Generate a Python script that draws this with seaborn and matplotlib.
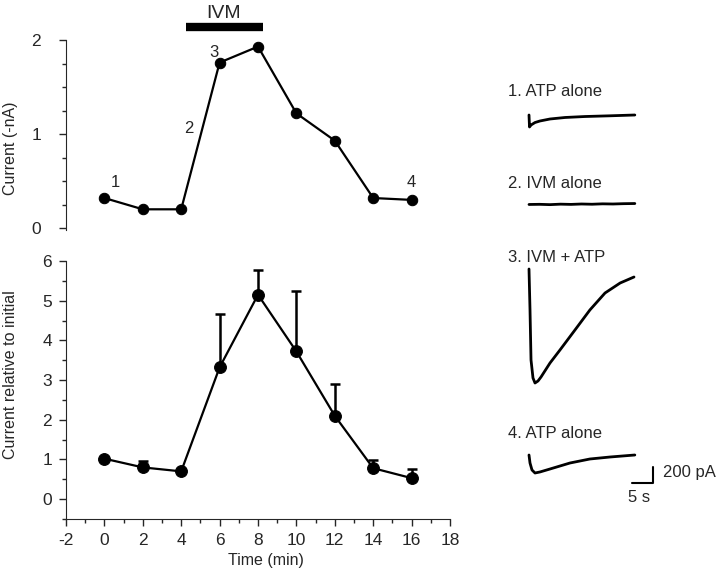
import pandas as pd
import matplotlib
matplotlib.use("Agg")
import matplotlib.pyplot as plt
from matplotlib.ticker import MultipleLocator
import seaborn as sns

sns.set_style("ticks")
plt.rcParams['font.family'] = ['Liberation Sans', 'DejaVu Sans']
plt.rcParams['axes.unicode_minus'] = False

# time points (min)
time_min = [0, 2, 4, 6, 8, 10, 12, 14, 16]
# top panel: example cell current (-nA)
current_na = [0.32, 0.20, 0.20, 1.76, 1.93, 1.22, 0.93, 0.32, 0.30]
# bottom panel: mean current relative to initial, upper SEM
rel_mean = [1.02, 0.80, 0.70, 3.32, 5.15, 3.72, 2.10, 0.78, 0.53]
rel_err = [0.0, 0.17, 0.0, 1.35, 0.63, 1.53, 0.80, 0.20, 0.22]

point_labels = ['1', '2', '3', '4']
point_label_x = [0.55, 4.4, 5.7, 16.0]
point_label_y = [0.48, 1.06, 1.87, 0.48]

# example traces (time in s, current in pA relative to baseline)
tr1_t = [0, 0.12, 0.48, 1.43, 2.6, 5.0, 8.6, 13.3, 19.3, 25.2]
tr1_i = [0, -150, -125, -94, -75, -50, -31, -19, -10, 0]
tr2_t = [0, 2.5, 5.0, 7.5, 10, 12.5, 15, 17.5, 20, 22.5, 25.2]
tr2_i = [-6, -4, -8, -2, -5, 0, -3, 2, 0, 4, 6]
tr3_t = [0, 0.24, 0.48, 0.95, 1.43, 2.14, 2.86, 5.0, 7.38, 10.95, 14.5, 18.1, 21.7, 25.0]
tr3_i = [0, -512, -1137, -1362, -1425, -1400, -1350, -1175, -1012, -762, -512, -300, -175, -100]
tr4_t = [0, 0.24, 0.71, 1.43, 2.62, 5.0, 9.76, 14.5, 19.3, 25.2]
tr4_i = [0, -100, -187, -225, -212, -175, -100, -50, -25, 0]
trace_names = ['1. ATP alone', '2. IVM alone', '3. IVM + ATP', '4. ATP alone']

fig = plt.figure(figsize=(7.2, 5.72), dpi=100)
W, H = 720, 572

def px_axes(left, top, right, bottom):
    return fig.add_axes([left / W, 1 - bottom / H, (right - left) / W, (bottom - top) / H])

# ---- top panel ----
ax1 = px_axes(66, 40, 450, 230)
df1 = pd.DataFrame({'t': time_min, 'i': current_na})
sns.lineplot(data=df1, x='t', y='i', ax=ax1, color='black', marker='o',
             markersize=7.5, markeredgecolor='black', linewidth=1.6)
ax1.set_xlim(-2, 18)
ax1.set_ylim(-0.02, 2.0)
ax1.set_yticks([0, 1, 2])
ax1.yaxis.set_minor_locator(MultipleLocator(0.25))
ax1.set_xticks([])
for s in ['top', 'right', 'bottom']:
    ax1.spines[s].set_visible(False)
ax1.set_xlabel('')
ax1.set_ylabel('Current (-nA)', fontsize=11.5)
ax1.yaxis.set_label_coords(-0.125, 0.43)
ax1.tick_params(axis='y', which='major', length=5, width=1, pad=13, labelsize=12.5)
ax1.tick_params(axis='y', which='minor', length=3, width=1)
for lab, lx, ly in zip(point_labels, point_label_x, point_label_y):
    ax1.text(lx, ly, lab, fontsize=12, ha='center', va='center')
ax1.plot([4.25, 8.25], [2.14, 2.14], color='black', linewidth=6, solid_capstyle='butt', clip_on=False)
ax1.text(6.2, 2.28, 'IVM', fontsize=14, ha='center', va='center')

# ---- bottom panel ----
ax2 = px_axes(66, 261, 450, 519)
df2 = pd.DataFrame({'t': time_min, 'r': rel_mean})
ax2.errorbar(time_min, rel_mean, yerr=[[0] * len(rel_err), rel_err], fmt='none',
             ecolor='black', elinewidth=1.8, capsize=3.5, capthick=1.8)
sns.lineplot(data=df2, x='t', y='r', ax=ax2, color='black', marker='o',
             markersize=8.5, markeredgecolor='black', linewidth=1.6)
ax2.set_xlim(-2, 18)
ax2.set_ylim(-0.5, 6)
ax2.set_xticks(range(-2, 19, 2))
ax2.set_yticks(range(0, 7))
ax2.xaxis.set_minor_locator(MultipleLocator(1))
ax2.yaxis.set_minor_locator(MultipleLocator(0.5))
for s in ['top', 'right']:
    ax2.spines[s].set_visible(False)
ax2.tick_params(which='major', length=5, width=1, pad=5, labelsize=12.5)
ax2.tick_params(which='minor', length=3, width=1)
ax2.set_xlabel('Time (min)', fontsize=11.5)
ax2.set_ylabel('Current relative to initial', fontsize=11.5)
ax2.yaxis.set_label_coords(-0.125, 0.558)
ax2.xaxis.set_label_coords(0.52, -0.13)

# ---- traces ----
# 4.2 px per s, 12.5 pA per px
ax3 = px_axes(500, 0, 720, 572)
ax3.set_xlim(-29 / 4.2, 191 / 4.2)
ax3.set_ylim(-572 * 12.5, 0)
ax3.axis('off')
traces = [(tr1_t, tr1_i, 115), (tr2_t, tr2_i, 204), (tr3_t, tr3_i, 269), (tr4_t, tr4_i, 455)]
label_rows = [92, 184, 257, 434]
for (tt, ii, base), name, ly in zip(traces, trace_names, label_rows):
    dft = pd.DataFrame({'t': tt, 'i': [v - base * 12.5 for v in ii]})
    sns.lineplot(data=dft, x='t', y='i', ax=ax3, color='black', linewidth=2.0,
                 estimator=None, sort=False)
    fig.text(508 / W, 1 - ly / H, name, fontsize=12, ha='left', va='center')
ax3.set_xlabel('')
ax3.set_ylabel('')

# scale bar: 200 pA, 5 s
sb_x = (653 - 529) / 4.2
sb_y = -483 * 12.5
ax3.plot([sb_x - 5, sb_x, sb_x], [sb_y, sb_y, sb_y + 200], color='black', linewidth=1.5)
fig.text(663 / W, 1 - 473 / H, '200 pA', fontsize=12, ha='left', va='center')
fig.text(639 / W, 1 - 497 / H, '5 s', fontsize=12, ha='center', va='center')

fig.savefig('out.png', dpi=100)
